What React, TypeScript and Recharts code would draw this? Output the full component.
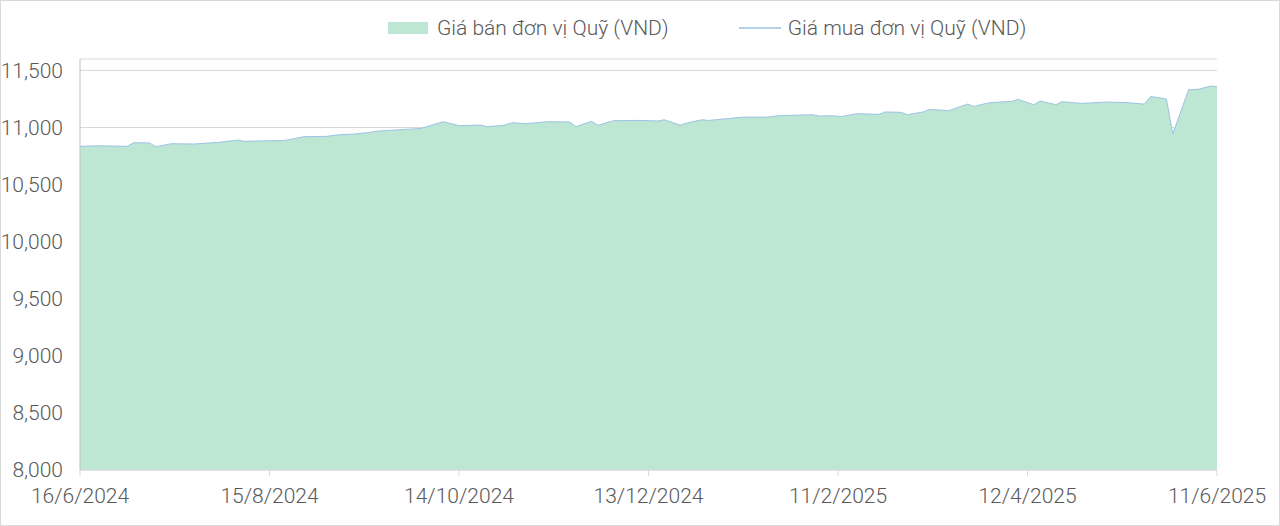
import React from "react";
import { ComposedChart, Area, Line, XAxis, YAxis, CartesianGrid } from "recharts";

// Ngày định giá (d/m/yyyy)
const ngay = [
  "16/6/2024", "22/6/2024", "1/7/2024", "3/7/2024", "8/7/2024", "10/7/2024", "15/7/2024",
  "22/7/2024", "30/7/2024", "5/8/2024", "7/8/2024", "20/8/2024", "26/8/2024", "2/9/2024",
  "5/9/2024", "11/9/2024", "15/9/2024", "19/9/2024", "2/10/2024", "9/10/2024", "14/10/2024",
  "21/10/2024", "23/10/2024", "28/10/2024", "31/10/2024", "4/11/2024", "11/11/2024",
  "18/11/2024", "20/11/2024", "25/11/2024", "27/11/2024", "2/12/2024", "10/12/2024",
  "16/12/2024", "18/12/2024", "23/12/2024", "26/12/2024", "30/12/2024", "1/1/2025",
  "12/1/2025", "20/1/2025", "23/1/2025", "3/2/2025", "5/2/2025", "9/2/2025", "12/2/2025",
  "17/2/2025", "24/2/2025", "26/2/2025", "3/3/2025", "5/3/2025", "10/3/2025", "12/3/2025",
  "18/3/2025", "24/3/2025", "26/3/2025", "31/3/2025", "7/4/2025", "9/4/2025", "14/4/2025",
  "16/4/2025", "21/4/2025", "23/4/2025", "29/4/2025", "7/5/2025", "14/5/2025", "19/5/2025",
  "21/5/2025", "26/5/2025", "28/5/2025", "2/6/2025", "5/6/2025", "9/6/2025", "11/6/2025",
];

const giaBan = [
  10835, 10840, 10835, 10867, 10865, 10832, 10858,
  10855, 10870, 10890, 10879, 10887, 10920, 10922,
  10934, 10943, 10955, 10970, 10992, 11051, 11016,
  11021, 11007, 11019, 11042, 11033, 11051,
  11048, 11007, 11054, 11019, 11060, 11062,
  11057, 11068, 11021, 11045, 11068, 11062,
  11091, 11091, 11103, 11112, 11100, 11103, 11095,
  11121, 11115, 11136, 11133, 11112, 11136, 11159,
  11147, 11205, 11185, 11217, 11229, 11246, 11200,
  11232, 11200, 11226, 11211, 11223, 11217, 11205,
  11272, 11249, 10943, 11331, 11334, 11363, 11357,
];

// giá mua trùng với đường viền của giá bán trên hình
const giaMua = [...giaBan];

const nhanTrucX = ["16/6/2024", "15/8/2024", "14/10/2024", "13/12/2024", "11/2/2025", "12/4/2025", "11/6/2025"];
const nhanTrucY = [8000, 8500, 9000, 9500, 10000, 10500, 11000, 11500];

const MAU_BAN = "#bde6d3";
const MAU_MUA = "#9dc3e6";
const MAU_CHU = "#595959";
const FONT = "Roboto, 'Noto Sans', sans-serif";

const toDay = (s: string) => {
  const [d, m, y] = s.split("/").map(Number);
  return Date.UTC(y, m - 1, d) / 86400000;
};
const day0 = toDay(ngay[0]);

const data = ngay.map((n, i) => ({
  day: toDay(n) - day0,
  ban: giaBan[i],
  mua: giaMua[i],
}));

const tickDays = nhanTrucX.map((n) => toDay(n) - day0);
const fmtX = (v: number) => nhanTrucX[tickDays.indexOf(v)] ?? "";
const fmtY = (v: number) => v.toLocaleString("en-US");

const tickStyle = { fill: MAU_CHU, fontSize: 21, fontFamily: FONT, fontWeight: 300 };

export default function App() {
  return (
    <div style={{ position: "absolute", left: 0, top: 0, width: 1280, height: 526, background: "#fff" }}>
      <div
        style={{
          position: "absolute",
          top: 14,
          left: 388,
          display: "flex",
          gap: 70,
          fontFamily: FONT,
          fontSize: 21,
          fontWeight: 300,
          color: MAU_CHU,
          whiteSpace: "nowrap",
        }}
      >
        <div style={{ display: "flex", alignItems: "center" }}>
          <svg width={49} height={28}>
            <rect x={0} y={8} width={40} height={12} fill={MAU_BAN} />
          </svg>
          <span>Giá bán đơn vị Quỹ (VND)</span>
        </div>
        <div style={{ display: "flex", alignItems: "center" }}>
          <svg width={49} height={28}>
            <line x1={0} y1={14} x2={42} y2={14} stroke={MAU_MUA} strokeWidth={1.5} />
          </svg>
          <span>Giá mua đơn vị Quỹ (VND)</span>
        </div>
      </div>
      <ComposedChart width={1280} height={526} data={data} margin={{ top: 59, right: 63, bottom: 0, left: 0 }}>
        <CartesianGrid vertical={false} stroke="#d9d9d9" />
        <XAxis
          dataKey="day"
          type="number"
          domain={[0, 360]}
          ticks={tickDays}
          tickFormatter={fmtX}
          height={56}
          stroke="#d9d9d9"
          tickSize={6}
          tickMargin={12}
          tick={tickStyle}
          interval={0}
        />
        <YAxis
          type="number"
          domain={[8000, 11600]}
          ticks={nhanTrucY}
          tickFormatter={fmtY}
          width={80}
          stroke="#bfbfbf"
          tickLine={false}
          tickSize={0}
          tickMargin={17}
          tick={tickStyle}
          interval={0}
        />
        <Area
          type="linear"
          dataKey="ban"
          fill={MAU_BAN}
          fillOpacity={1}
          stroke="none"
          isAnimationActive={false}
        />
        <Line
          type="linear"
          dataKey="mua"
          stroke={MAU_MUA}
          strokeWidth={1}
          dot={false}
          activeDot={false}
          isAnimationActive={false}
        />
      </ComposedChart>
      <div
        style={{
          position: "absolute",
          inset: 0,
          border: "1px solid #d9d9d9",
          pointerEvents: "none",
        }}
      />
    </div>
  );
}
